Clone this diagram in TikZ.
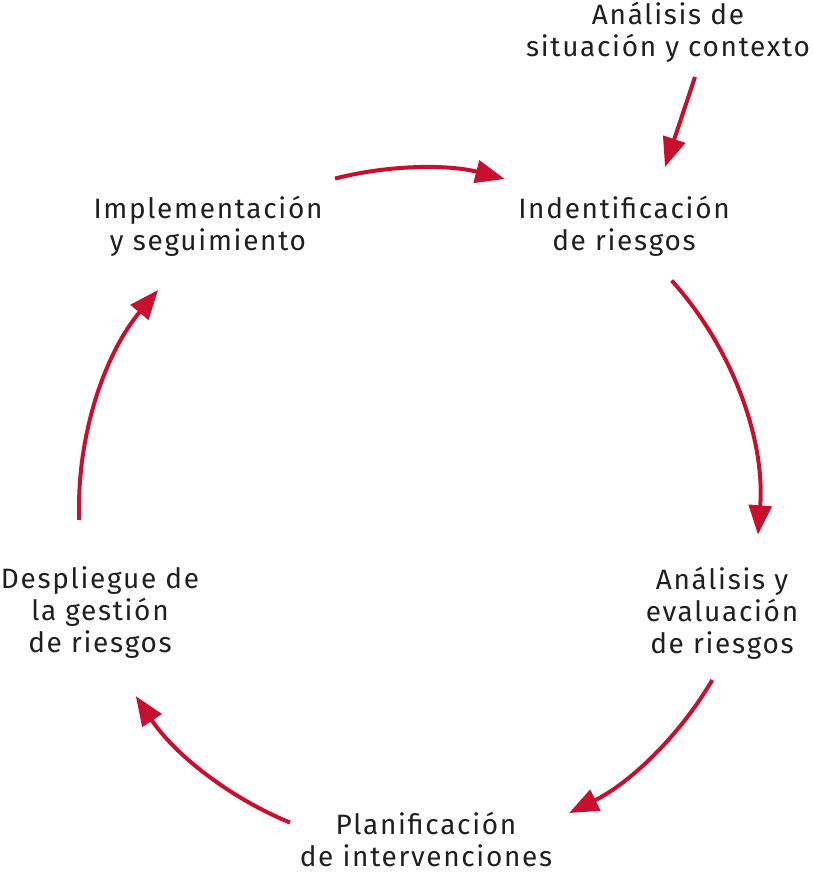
\documentclass[tikz,border=0pt]{standalone}
\usepackage{fontspec}
\setmainfont{Fira Sans}[LetterSpace=6]
\usetikzlibrary{arrows.meta}
\definecolor{arrred}{HTML}{C8102E}
\begin{document}
\begin{tikzpicture}[x=0.75pt,y=0.75pt,
  lbl/.style={align=center,font=\fontsize{21}{24}\selectfont,text=black!88,inner sep=0pt},
  cyc/.style={draw=arrred,line width=3pt,-{Triangle[length=22pt,width=17pt]}}]
\useasboundingbox (0,0) rectangle (813,872);
\coordinate (c) at (419,364);
\node[lbl] (ctx) at (668,840) {Análisis de\\situación y contexto};
\node[lbl] (ide) at (624,646) {Indentificación\\de riesgos};
\node[lbl] (ana) at (722,259) {Análisis y\\evaluación\\de riesgos};
\node[lbl] (pla) at (426,33) {Planificación\\de intervenciones};
\node[lbl] (des) at (100,259) {Despliegue de\\la gestión\\de riesgos};
\node[lbl] (imp) at (208,646) {Implementación\\y seguimiento};
\coordinate (ctxA) at (695,795);
\coordinate (ctxB) at (665,705);
\coordinate (s1) at ([shift={(104.3:340)}]c);
\coordinate (s2) at ([shift={(42:340)}]c);
\coordinate (s3) at ([shift={(-30.4:340)}]c);
\coordinate (s4) at ([shift={(247.7:340)}]c);
\coordinate (s5) at ([shift={(182:340)}]c);
\draw[cyc] (ctxA) -- (ctxB);
\draw[cyc] (s1) arc[start angle=104.3,end angle=75.4,radius=340];
\draw[cyc] (s2) arc[start angle=42,end angle=-4.5,radius=340];
\draw[cyc] (s3) arc[start angle=-30.4,end angle=-63.8,radius=340];
\draw[cyc] (s4) arc[start angle=247.7,end angle=213.6,radius=340];
\draw[cyc] (s5) arc[start angle=182,end angle=140.1,radius=340];
\end{tikzpicture}
\end{document}
